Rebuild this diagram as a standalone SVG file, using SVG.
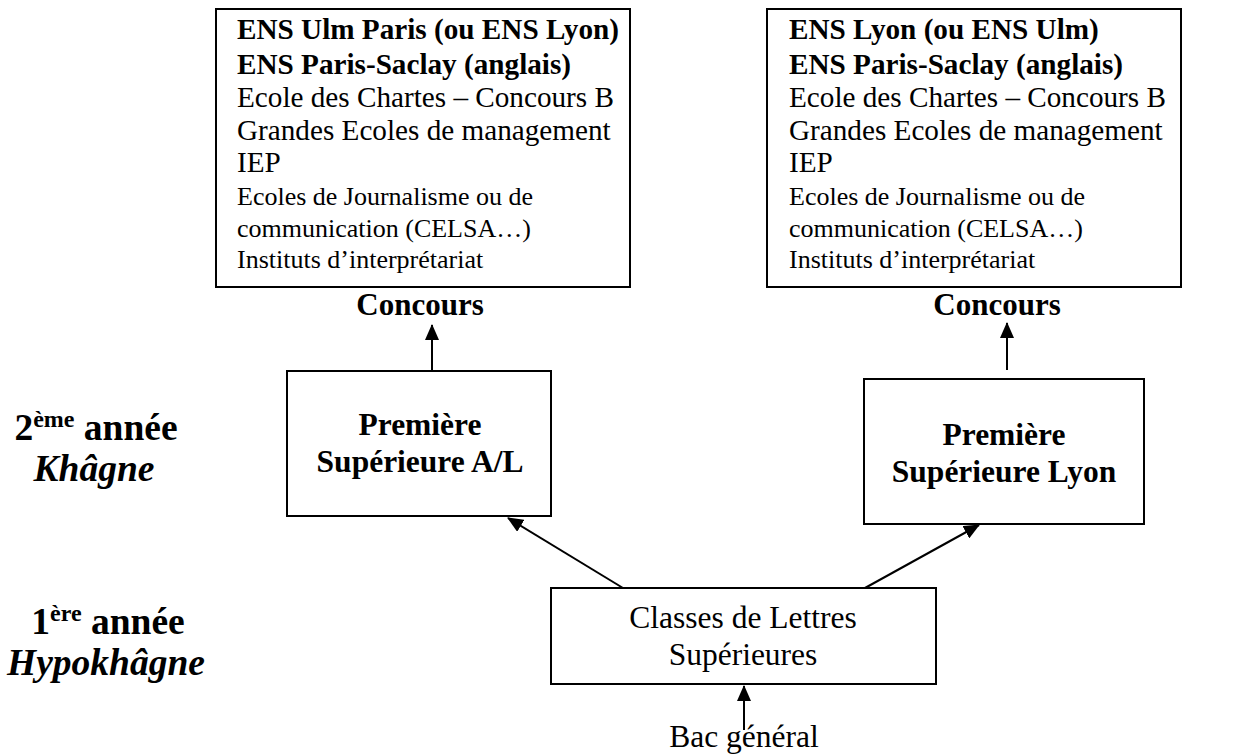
<svg xmlns="http://www.w3.org/2000/svg" width="1247" height="754" viewBox="0 0 1247 754">
<defs>
<style>
text{font-family:"Liberation Serif","Times New Roman",serif;fill:#000}
.b{font-weight:bold}
.top{font-size:29.2px}
.sm{font-size:26px}
.lbl{font-size:31px;font-weight:bold}
.yr{font-size:37.5px;font-weight:bold}
.yi{font-size:37.5px;font-weight:bold;font-style:italic}
.reg{font-size:31.5px}
.box{fill:#fff;stroke:#000;stroke-width:2}
.c{stroke:#000;stroke-width:2;fill:none;marker-end:url(#ah)}
</style>
<marker id="ah" viewBox="0 0 16 14" refX="15" refY="7" markerWidth="16" markerHeight="14" markerUnits="userSpaceOnUse" orient="auto">
<path d="M0,0 L16,7 L0,14 z" fill="#000"/>
</marker>
</defs>
<rect width="1247" height="754" fill="#fff"/>
<g id="left-labels">
<text class="yr" x="96" y="440" text-anchor="middle">2<tspan font-size="24" dy="-13">ème</tspan><tspan dy="13"> année</tspan></text>
<text class="yi" x="94" y="481" text-anchor="middle">Khâgne</text>
<text class="yr" x="108" y="634" text-anchor="middle">1<tspan font-size="24" dy="-13">ère</tspan><tspan dy="13"> année</tspan></text>
<text class="yi" x="106" y="675" text-anchor="middle">Hypokhâgne</text>
</g>
<g id="node-ens-left">
<rect class="box" x="216" y="9" width="414" height="278"/>
<text class="top b" x="237" y="39">ENS Ulm Paris (ou ENS Lyon)</text>
<text class="top b" x="237" y="74">ENS Paris-Saclay (anglais)</text>
<text class="top" x="237" y="107">Ecole des Chartes – Concours B</text>
<text class="top" x="237" y="140">Grandes Ecoles de management</text>
<text class="top" x="237" y="172">IEP</text>
<text class="sm" x="237" y="205">Ecoles de Journalisme ou de</text>
<text class="sm" x="237" y="237">communication (CELSA…)</text>
<text class="sm" x="237" y="268">Instituts d’interprétariat</text>
</g>
<g id="node-ens-right">
<rect class="box" x="767" y="9" width="414" height="278"/>
<text class="top b" x="789" y="39">ENS Lyon (ou ENS Ulm)</text>
<text class="top b" x="789" y="74">ENS Paris-Saclay (anglais)</text>
<text class="top" x="789" y="107">Ecole des Chartes – Concours B</text>
<text class="top" x="789" y="140">Grandes Ecoles de management</text>
<text class="top" x="789" y="172">IEP</text>
<text class="sm" x="789" y="205">Ecoles de Journalisme ou de</text>
<text class="sm" x="789" y="237">communication (CELSA…)</text>
<text class="sm" x="789" y="268">Instituts d’interprétariat</text>
</g>
<g id="label-concours-left"><text class="lbl" x="420" y="315" text-anchor="middle">Concours</text></g>
<g id="label-concours-right"><text class="lbl" x="997" y="315" text-anchor="middle">Concours</text></g>
<g id="node-premiere-al">
<rect class="box" x="287" y="371" width="264" height="145"/>
<text class="reg b" x="420" y="435" text-anchor="middle">Première</text>
<text class="reg b" x="420" y="472" text-anchor="middle">Supérieure A/L</text>
</g>
<g id="node-premiere-lyon">
<rect class="box" x="864" y="379" width="280" height="145"/>
<text class="reg b" x="1004" y="445" text-anchor="middle">Première</text>
<text class="reg b" x="1004" y="482" text-anchor="middle">Supérieure Lyon</text>
</g>
<g id="node-classes">
<rect class="box" x="551" y="588" width="385" height="96"/>
<text class="reg" x="743" y="628" text-anchor="middle">Classes de Lettres</text>
<text class="reg" x="743" y="665" text-anchor="middle">Supérieures</text>
</g>
<g id="label-bac"><text class="reg" x="744" y="747" text-anchor="middle">Bac général</text></g>
<g id="connectors">
<line class="c" x1="432" y1="371" x2="432" y2="325"/>
<line class="c" x1="1007" y1="370" x2="1007" y2="323"/>
<line class="c" x1="623" y1="588" x2="508" y2="518"/>
<line class="c" x1="865" y1="588" x2="979" y2="525"/>
<line class="c" x1="744" y1="730" x2="744" y2="686"/>
</g>
</svg>
